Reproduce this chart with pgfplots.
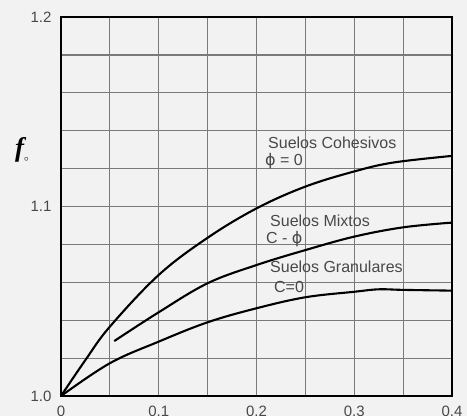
\documentclass[border=0pt]{standalone}
\usepackage{pgfplots}
\pgfplotsset{compat=1.18}
\usepackage{fontspec}
\setmainfont{Liberation Sans}
\newfontfamily\serifF{Liberation Serif}
\newfontfamily\dejavu{DejaVu Sans}
\definecolor{bg}{HTML}{F2F2F2}
\definecolor{gridc}{HTML}{7A7A7A}
\definecolor{txt}{HTML}{484848}
\newcommand{\phis}{{\dejavu ϕ}}
\begin{document}
\begin{tikzpicture}
\fill[bg] (-61pt,-20pt) rectangle (406pt,396pt);
\useasboundingbox (-61pt,-20pt) rectangle (406pt,396pt);
\begin{axis}[
  scale only axis, width=391pt, height=379pt,
  xmin=0, xmax=0.4, ymin=1, ymax=1.2,
  xtick={0,0.1,0.2,0.3,0.4}, xticklabels={0,0.1,0.2,0.3,0.4},
  minor xtick={0.05,0.15,0.25,0.35},
  ytick={1.0,1.1,1.2}, yticklabels={1.0,1.1,1.2},
  minor ytick={1.02,1.04,1.06,1.08,1.12,1.14,1.16,1.18},
  grid=both,
  major grid style={gridc, line width=1.2pt},
  minor grid style={gridc, line width=1.2pt},
  major tick length=0pt, minor tick length=0pt,
  axis line style={black, line width=1.8pt},
  tick label style={font=\fontsize{15}{15}\selectfont, text=txt},
  yticklabel style={xshift=-6pt},
  xticklabel style={yshift=-6pt},
  clip=false,
  axis background/.style={fill=bg},
]
\addplot[black, line width=2.1pt, smooth, tension=0.6] coordinates {
 (0,1.0) (0.025,1.019) (0.05,1.0366) (0.1,1.0639) (0.15,1.0835) (0.2,1.099)
 (0.25,1.1105) (0.3,1.1185) (0.34,1.1232) (0.4,1.1267)};
\addplot[black, line width=2.1pt, smooth, tension=0.6] coordinates {
 (0.0545,1.029) (0.1,1.0442) (0.15,1.0595) (0.2,1.0691) (0.25,1.077)
 (0.3,1.0841) (0.35,1.089) (0.4,1.0915)};
\addplot[black, line width=2.1pt, smooth, tension=0.6] coordinates {
 (0,1.0) (0.05,1.0173) (0.1,1.0287) (0.15,1.0389) (0.2,1.0463) (0.25,1.0521)
 (0.3,1.055) (0.325,1.0563) (0.35,1.056) (0.4,1.0556)};
\begin{scope}[every node/.style={font=\fontsize{16}{16}\selectfont, text=txt, inner sep=0pt, anchor=west}]
\node at (axis cs:0.2118,1.1338) {Suelos Cohesivos};
\node at (axis cs:0.2087,1.1238) {\phis{} = 0};
\node at (axis cs:0.2138,1.0923) {Suelos Mixtos};
\node at (axis cs:0.2097,1.0828) {C - \phis};
\node at (axis cs:0.2138,1.0683) {Suelos Granulares};
\node at (axis cs:0.2179,1.0577) {C=0};
\end{scope}
\node[inner sep=0pt] at (rel axis cs:0,0.649) [xshift=-39pt] {{\serifF\bfseries\itshape\fontsize{27}{27}\selectfont f}\raisebox{-5pt}{\fontsize{9}{9}\selectfont$\circ$}};
\end{axis}
\end{tikzpicture}
\end{document}
